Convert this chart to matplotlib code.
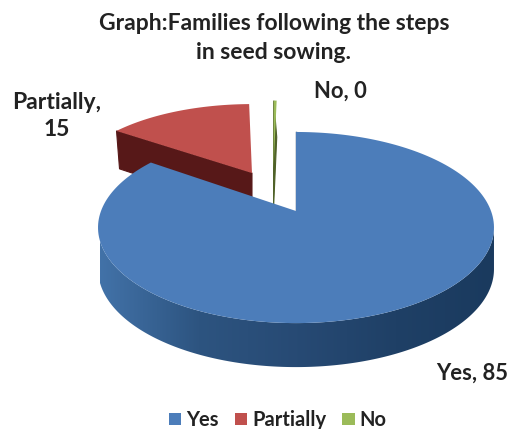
import numpy as np
import matplotlib
matplotlib.use("Agg")
import matplotlib.pyplot as plt
from matplotlib.colors import LinearSegmentedColormap
from matplotlib.patches import Patch, Polygon

categories = ["Yes", "Partially", "No"]
# "No" is labelled 0 but still shows as a sliver, so it is a bit above zero
values = [85, 15, 0.3]
title = "Graph:Families following the steps\nin seed sowing."

face_colors = ["#4c7dba", "#c0504d", "#9bbb59"]
side_colors = ["#2a4d78", "#571818", "#4f6128"]
offsets = [(0.0, 0.0), (-0.243, 0.441), (-0.125, 0.5)]
x_skew = [0.0, -6.0, 0.0]

# pie geometry, in pixels of the picture
CX, CY = 296, 211
W, H, K = 195, 92.7, 0.173


def project(u, v, skew=0.0, v0=0.0):
    # circle seen in perspective, so the far half comes out shorter
    d = 1 + K * v
    return CX + W * u / d + skew * (v - v0), CY - H * v / d


def depth(v):
    return 41 - 3 * v


def wedge_points(start, end, du, dv, skew):
    th = np.radians(np.linspace(start, end, 200))
    u = np.concatenate([[du], du + np.sin(th)])
    v = np.concatenate([[dv], dv + np.cos(th)])
    x, y = project(u, v, skew, dv)
    return x, y, v


fig = plt.figure(figsize=(5.09, 4.29), dpi=100)
ax = fig.add_axes([0, 0, 1, 1])
ax.set_xlim(0, 509)
ax.set_ylim(429, 0)
ax.axis("off")
plt.rcParams["font.family"] = ["Lato", "DejaVu Sans"]

angles = np.concatenate([[0], np.cumsum(values) / np.sum(values) * 360])

# back slices first, the big blue one covers them
for i in [2, 1, 0]:
    du, dv = offsets[i]
    x, y, v = wedge_points(angles[i], angles[i + 1], du, dv, x_skew[i])

    if i == 0:
        # outer wall along the front of the pie, shaded left to right
        th = np.radians(np.linspace(90, 270, 400))
        u_a, v_a = np.sin(th), np.cos(th)
        keep = v_a <= -K
        xa, ya = project(u_a[keep], v_a[keep])
        za = ya + depth(v_a[keep])
        wall = Polygon(np.column_stack([np.r_[xa, xa[::-1]], np.r_[ya, za[::-1]]]),
                       closed=True, fc="none", ec="none")
        ax.add_patch(wall)
        cmap = LinearSegmentedColormap.from_list(
            "wall", ["#1a3a5e", "#1f4066", "#274a74", "#2d5480", "#4272a8"])
        grad = ax.imshow(np.linspace(0, 1, 256)[None, :], cmap=cmap, aspect="auto",
                         extent=[495, 100, 400, 200], zorder=1)
        grad.set_clip_path(wall)
        ax.plot([x[1], x[0]], [y[1], y[0]], color="#1f3a5c", lw=1.0, zorder=1.5)
        zs = 2
    else:
        # cut wall of the exploded slice, from the apex out to the left corner
        ex = np.array([x[0], x[1]])
        ey = np.array([y[0], y[1]])
        ev = np.array([v[0], v[1]])
        bot_x = ex + np.array([0, 3.0])
        bot_y = ey + depth(ev)
        ax.add_patch(Polygon(np.column_stack([np.r_[ex, bot_x[::-1]], np.r_[ey, bot_y[::-1]]]),
                             closed=True, fc=side_colors[i], ec=side_colors[i], lw=0.8, zorder=0.5))
        zs = 0.6

    ax.add_patch(Polygon(np.column_stack([x, y]), closed=True, fc=face_colors[i],
                         ec="none", zorder=zs))

text_color = "#222222"
ax.text(274, 38, title, ha="center", va="center", fontsize=16.5, fontweight="bold",
        color=text_color, linespacing=1.42)


def data_label(i):
    return f"{categories[i]}, {values[i]:.0f}"


ax.text(472, 373, data_label(0), ha="center", va="center", fontsize=15.8,
        fontweight="bold", color=text_color)
ax.text(57, 116, data_label(1).replace(", ", ",\n"), ha="center", va="center",
        fontsize=16.5, fontweight="bold", color=text_color, linespacing=1.35)
ax.text(340, 91, data_label(2), ha="center", va="center", fontsize=15.8,
        fontweight="bold", color=text_color)

handles = [Patch(fc=c, ec="none") for c in face_colors]
ax.legend(handles, categories, loc="center", bbox_to_anchor=(278 / 509, 1 - 420 / 429),
          ncol=3, frameon=False, handlelength=0.6, handleheight=0.6,
          handletextpad=0.25, columnspacing=0.8, borderpad=0,
          prop={"weight": "bold", "size": 14.5}, labelcolor=text_color)

fig.savefig("out.png", dpi=100, facecolor="white")
